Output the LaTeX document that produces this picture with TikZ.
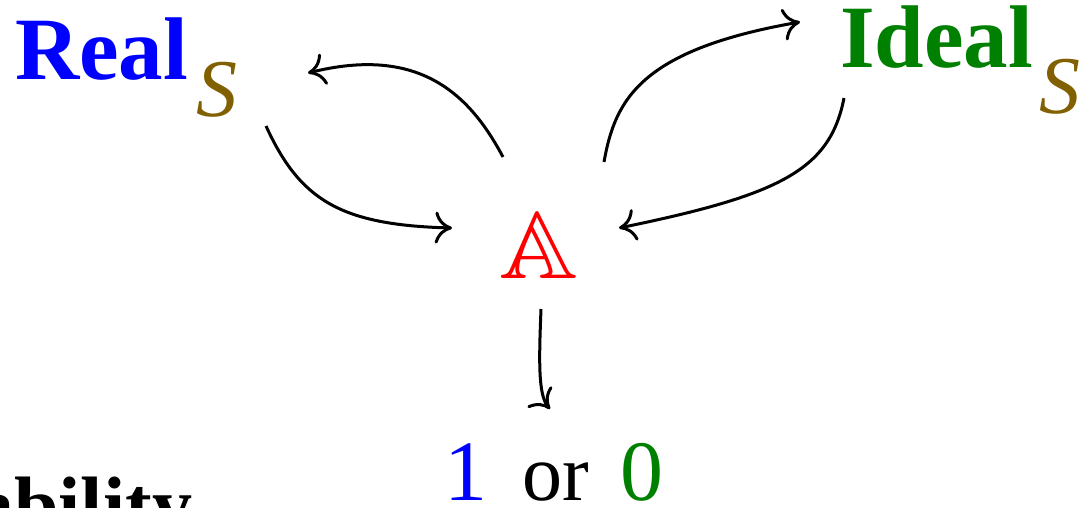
\documentclass[tikz,border=0pt]{standalone}
\usepackage{fontspec}
\usepackage{amssymb}
\setmainfont{Liberation Serif}
\usetikzlibrary{arrows.meta}
\definecolor{realblue}{RGB}{0,0,255}
\definecolor{idealgreen}{RGB}{0,128,0}
\definecolor{subolive}{RGB}{128,96,0}
\definecolor{advred}{RGB}{255,0,0}
\tikzset{
  lbl/.style={inner sep=0pt, outer sep=0pt},
  bigbold/.style={lbl, font=\fontsize{89}{92}\selectfont\bfseries},
  subs/.style={lbl, text=subolive, font=\fontsize{82}{86}\selectfont\itshape},
  outtxt/.style={lbl, font=\fontsize{86}{90}\selectfont},
  conn/.style={line width=3pt, -{To[length=17pt,width=32pt]}},
}
\begin{document}
\begin{tikzpicture}[x=1pt,y=-1pt]
\clip (0,0) rectangle (1087,508);
\node[bigbold, text=realblue, anchor=base west] (real) at (15,80) {Real};
\node[subs, anchor=base west] (realS) at (196,117) {S};
\node[bigbold, text=idealgreen, anchor=base west] (ideal) at (840,68) {Ideal};
\node[subs, anchor=base west] (idealS) at (1039,114) {S};
\node[lbl, text=advred, font=\fontsize{95}{100}\selectfont, anchor=base] (A) at (538.5,278) {\scalebox{1.15}[1]{$\mathbb{A}$}};
\node[outtxt, text=realblue, anchor=base] (one) at (466,500) {1};
\node[outtxt, font=\fontsize{80}{84}\selectfont, anchor=base] (or) at (556,500) {or};
\node[outtxt, text=idealgreen, anchor=base] (zero) at (642,500) {0};
\node[lbl, font=\fontsize{80}{84}\selectfont\bfseries, anchor=base east] (bility) at (192,532) {ability};
% connectors
\draw[conn] ([shift={(-35.5,-121)}]A.base) .. controls ([shift={(-68.5,-183)}]A.base) and ([shift={(-118.5,-233)}]A.base) .. ([shift={(112,-44)}]realS.base west);
\draw[conn] ([shift={(70,9)}]realS.base west) .. controls ([shift={(104,83)}]realS.base west) and ([shift={(144,108)}]realS.base west) .. ([shift={(-86.5,-50)}]A.base);
\draw[conn] ([shift={(65.5,-116)}]A.base) .. controls ([shift={(76.5,-178)}]A.base) and ([shift={(101.5,-228)}]A.base) .. ([shift={(-40,-46)}]ideal.base west);
\draw[conn] ([shift={(4,30)}]ideal.base west) .. controls ([shift={(-10,102)}]ideal.base west) and ([shift={(-60,127)}]ideal.base west) .. ([shift={(80.5,-50)}]A.base);
\draw[conn] ([shift={(2.5,31)}]A.base) .. controls ([shift={(0.5,82)}]A.base) and ([shift={(-0.5,117)}]A.base) .. ([shift={(84,-91)}]one.base);
\end{tikzpicture}
\end{document}
